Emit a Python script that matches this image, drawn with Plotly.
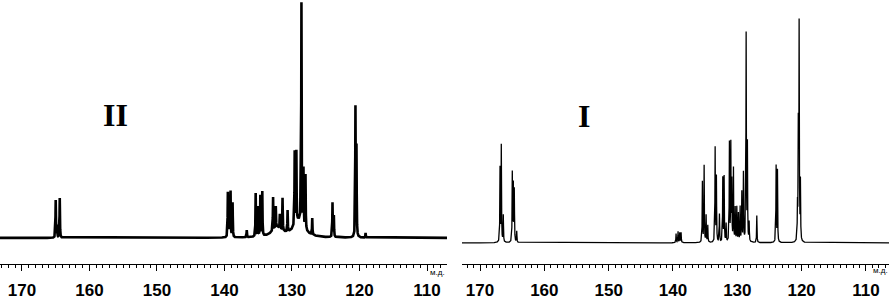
import numpy as np
import plotly.graph_objects as go

# ---------------- data ----------------
# Spectrum II (left panel): peak positions (ppm) and relative intensities
ii_ppm = [165.0, 164.8, 164.4,
          139.5, 139.3, 139.1, 138.8, 136.7,
          135.38, 135.04, 134.69, 134.4,
          132.8, 132.4, 131.8, 131.4, 130.65,
          129.6, 129.35, 128.6, 128.3, 128.0, 127.0,
          124.0, 123.8, 120.6, 120.45, 119.1]
ii_int = [15.8, 5.0, 16.7,
          18.8, 12.0, 19.2, 14.6, 3.0,
          18.3, 12.5, 17.2, 18.7,
          14.0, 9.0, 6.0, 13.7, 9.0,
          31.0, 30.0, 93.0, 24.0, 23.0, 7.0,
          14.5, 9.0, 54.0, 37.0, 2.0]
# broad underlying humps in spectrum II
ii_broad_ppm = [132.2, 129.0]
ii_broad_int = [4.0, 7.0]

# Spectrum I (right panel)
i_ppm = [166.89, 166.69, 166.38,
         164.98, 164.82, 164.67, 164.29,
         139.52, 139.21, 138.95, 138.74,
         135.43, 135.16, 134.85, 134.59,
         133.45, 133.25, 132.78,
         132.26, 132.05, 131.74,
         131.23, 131.01, 130.86, 130.6, 130.33,
         130.08, 129.83, 129.56, 129.3, 129.05,
         128.63, 128.43, 128.16, 126.97,
         123.97, 123.76,
         120.65, 120.52, 120.39, 120.19]
i_int = [33.0, 43.0, 12.0,
         30.7, 25.0, 23.0, 5.0,
         4.0, 5.0, 4.5, 4.5,
         27.0, 34.0, 12.0, 7.5,
         42.0, 29.0, 12.5,
         28.5, 29.0, 8.0,
         44.0, 43.0, 26.0, 32.5, 15.0,
         15.4, 12.7, 15.4, 22.0, 30.7,
         92.5, 43.0, 8.5, 12.0,
         34.0, 32.0,
         15.0, 50.0, 95.5, 26.0]

tick_vals = [170, 160, 150, 140, 130, 120, 110]
unit_label = "м.д."
panel_labels = ["II", "I"]


def spectrum(grid, ppm, inten, hw):
    y = np.zeros_like(grid)
    for p, h in zip(ppm, inten):
        y += h * hw ** 2 / ((grid - p) ** 2 + hw ** 2)
    return y


left_range = [173.25, 107.04]
right_range = [172.8, 106.42]

g_left = np.arange(left_range[1], left_range[0], 0.004)
g_right = np.arange(right_range[1], right_range[0], 0.004)

y_left = spectrum(g_left, ii_ppm, ii_int, 0.035) + spectrum(g_left, ii_broad_ppm, ii_broad_int, 0.9)
y_right = spectrum(g_right, i_ppm, i_int, 0.035)

fig = go.Figure()
fig.add_trace(go.Scatter(x=g_left, y=y_left, mode="lines",
                         line=dict(color="black", width=2.6),
                         xaxis="x", yaxis="y", hoverinfo="skip"))
fig.add_trace(go.Scatter(x=g_right, y=y_right, mode="lines",
                         line=dict(color="black", width=1.3),
                         xaxis="x2", yaxis="y2", hoverinfo="skip"))

W, H = 889, 300
axis_bottom_px = 268
ydom = [(H - axis_bottom_px) / H, 1]

xcommon = dict(showline=True, linecolor="black", linewidth=1,
               ticks="outside", ticklen=6, tickwidth=1, tickcolor="black",
               tickmode="array", tickvals=tick_vals,
               ticktext=[str(v) for v in tick_vals],
               tickfont=dict(family="Liberation Sans", size=17, color="black", weight="bold"),
               minor=dict(dtick=1, tick0=110, ticks="outside", ticklen=3,
                          tickcolor="black", tickwidth=1, showgrid=False),
               showgrid=False, zeroline=False, ticklabelstandoff=4)

fig.update_layout(
    width=W, height=H,
    margin=dict(l=0, r=0, t=0, b=0),
    paper_bgcolor="white", plot_bgcolor="white",
    showlegend=False,
    xaxis=dict(range=left_range, domain=[0, 447 / W], anchor="y", **xcommon),
    yaxis=dict(domain=ydom, range=[-11.2, 100.5], visible=False),
    xaxis2=dict(range=right_range, domain=[462 / W, 1], anchor="y2", **xcommon),
    yaxis2=dict(domain=ydom, range=[-9.6, 107.9], visible=False),
)

fig.add_annotation(text=panel_labels[0], x=115 / W, y=1 - 117 / H, xref="paper", yref="paper",
                   showarrow=False, xanchor="center", yanchor="middle",
                   font=dict(family="Liberation Serif", size=32, color="black", weight="bold"))
fig.add_annotation(text=panel_labels[1], x=584 / W, y=1 - 118 / H, xref="paper", yref="paper",
                   showarrow=False, xanchor="center", yanchor="middle",
                   font=dict(family="Liberation Serif", size=32, color="black", weight="bold"))
fig.add_annotation(text=unit_label, x=437 / W, y=1 - 276 / H, xref="paper", yref="paper",
                   showarrow=False, xanchor="center", yanchor="middle",
                   font=dict(family="Liberation Sans", size=8, color="black"))
fig.add_annotation(text=unit_label, x=880 / W, y=1 - 274 / H, xref="paper", yref="paper",
                   showarrow=False, xanchor="center", yanchor="middle",
                   font=dict(family="Liberation Sans", size=8, color="black"))

fig.write_html("out.html", config={"displayModeBar": False},
               post_script="document.body.style.margin='0';document.body.style.overflow='hidden';")
